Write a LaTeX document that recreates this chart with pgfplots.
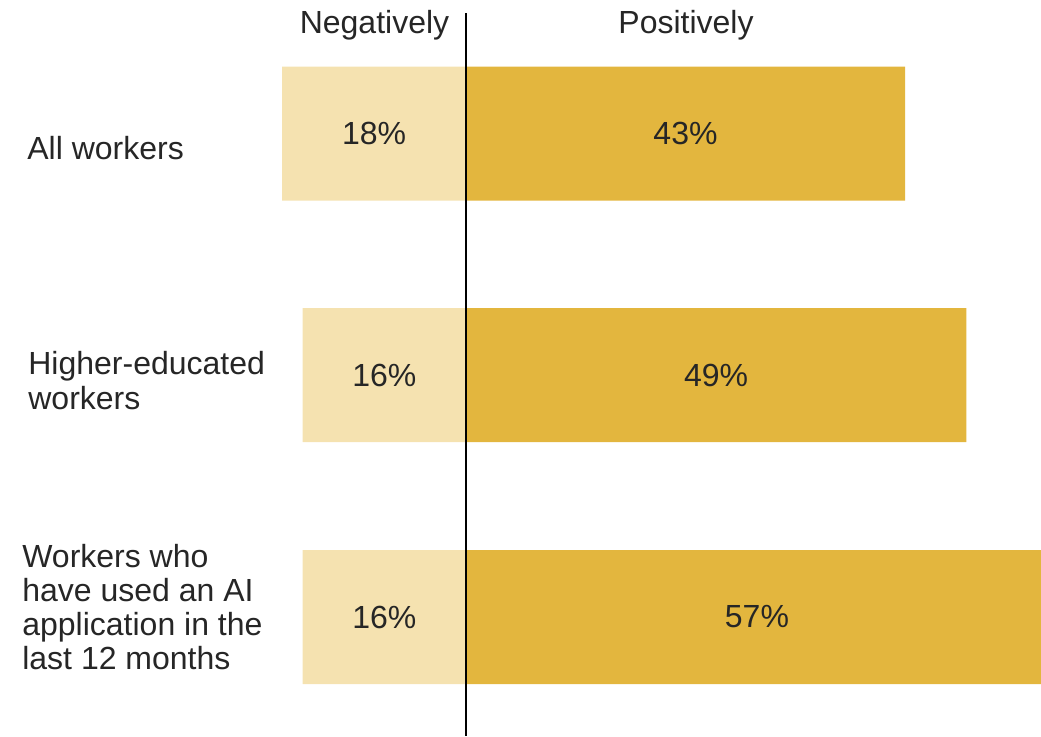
\documentclass[border=0pt]{standalone}
\usepackage{pgfplots}
\pgfplotsset{compat=1.18}
\usepackage{fontspec}
\setmainfont{Liberation Sans}
\definecolor{lightbar}{HTML}{F5E2B0}
\definecolor{darkbar}{HTML}{E3B63E}
\definecolor{txt}{HTML}{262626}
\tikzset{lbl/.style={font=\fontsize{16}{17.5}\selectfont, text=txt, inner sep=0pt}}
\begin{document}
\begin{tikzpicture}
\begin{axis}[
  name=ax,
  scale only axis,
  width=520.5pt, height=368pt,
  xmin=-45.64, xmax=56.32,
  ymin=0, ymax=736, y dir=reverse,
  axis lines=none,
  ticks=none,
]
\addplot[xbar, bar shift=0pt, bar width=134, fill=lightbar, draw=none]
  coordinates {(-18,133.5) (-16,375) (-16,617)};
\addplot[xbar, bar shift=0pt, bar width=134, fill=darkbar, draw=none]
  coordinates {(43,133.5) (49,375) (57,617)};
\addplot[black, line width=1pt] coordinates {(0,13) (0,736)};

\node[lbl, anchor=base] at (axis cs:-8.96,33) {Negatively};
\node[lbl, anchor=base] at (axis cs:21.55,33) {Positively};

\node[lbl] at (axis cs:-9,133.5) {18\%};
\node[lbl] at (axis cs:21.5,133.5) {43\%};
\node[lbl] at (axis cs:-8,375) {16\%};
\node[lbl] at (axis cs:24.5,375) {49\%};
\node[lbl] at (axis cs:-8,617) {16\%};
\node[lbl] at (axis cs:28.5,617) {57\%};

\node[lbl, anchor=base west] at (axis cs:-43.0,159) {All workers};
\node[lbl, anchor=base west] at (axis cs:-42.9,374) {Higher-educated};
\node[lbl, anchor=base west] at (axis cs:-42.9,409) {workers};
\node[lbl, anchor=base west] at (axis cs:-43.49,567) {Workers who};
\node[lbl, anchor=base west] at (axis cs:-43.49,601) {have used an AI};
\node[lbl, anchor=base west] at (axis cs:-43.49,635) {application in the};
\node[lbl, anchor=base west] at (axis cs:-43.49,669) {last 12 months};
\end{axis}
\pgfresetboundingbox
\path[use as bounding box] (ax.south west) rectangle (ax.north east);
\end{tikzpicture}
\end{document}
